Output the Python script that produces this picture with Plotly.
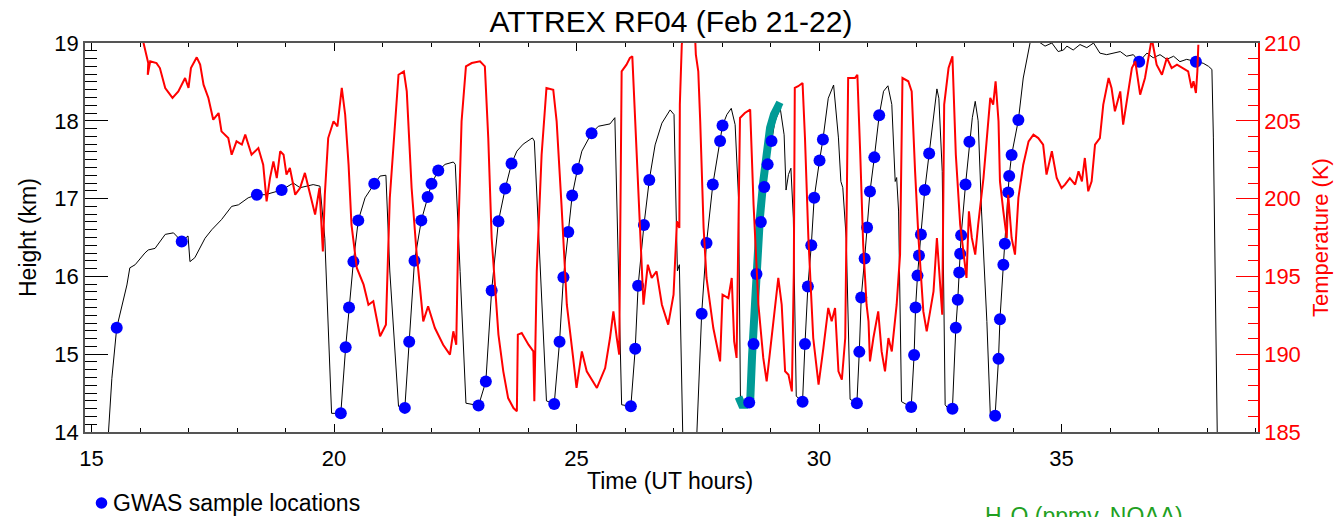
import plotly.graph_objects as go

# ---------------- data ----------------
# Aircraft altitude (km) vs time (UT hours)
height_time = [15.30, 15.35, 15.42, 15.52, 15.62, 15.73, 15.79, 15.90, 16.10, 16.17, 16.31, 16.52, 16.69, 16.76,
               16.86, 16.99, 17.03, 17.13, 17.20, 17.34, 17.48, 17.68, 17.89, 18.03, 18.23, 18.41, 18.58, 18.78,
               18.92, 19.16, 19.30, 19.57, 19.71, 19.81, 19.95, 20.06, 20.14, 20.24, 20.31, 20.40, 20.50, 20.64,
               20.83, 20.95, 21.07, 21.15, 21.33, 21.46, 21.55, 21.66, 21.80, 21.93, 22.01, 22.15, 22.29, 22.46,
               22.50, 22.60, 22.72, 22.98, 23.13, 23.25, 23.39, 23.53, 23.66, 23.77, 23.90, 24.09, 24.13, 24.38,
               24.54, 24.65, 24.73, 24.83, 24.91, 25.02, 25.11, 25.31, 25.45, 25.69, 25.79, 25.93, 26.12, 26.21,
               26.27, 26.39, 26.50, 26.62, 26.76, 26.93, 27.01, 27.08, 27.12, 27.19, 27.27, 27.37, 27.48, 27.58,
               27.68, 27.81, 27.96, 28.01, 28.10, 28.19, 28.27, 28.34, 28.38, 28.45, 28.56, 28.65, 28.71, 28.80,
               28.87, 28.94, 29.02, 29.09, 29.20, 29.28, 29.32, 29.37, 29.42, 29.47, 29.53, 29.66, 29.71, 29.77,
               29.84, 29.90, 30.01, 30.08, 30.19, 30.30, 30.40, 30.45, 30.49, 30.56, 30.64, 30.78, 30.83, 30.87,
               30.94, 30.99, 31.05, 31.14, 31.24, 31.33, 31.42, 31.50, 31.57, 31.60, 31.64, 31.70, 31.81, 31.90,
               31.96, 31.99, 32.03, 32.06, 32.10, 32.18, 32.27, 32.36, 32.43, 32.47, 32.54, 32.60, 32.65, 32.75,
               32.82, 32.86, 32.89, 32.91, 32.93, 33.02, 33.10, 33.16, 33.22, 33.28, 33.35, 33.46, 33.53, 33.63,
               33.70, 33.73, 33.80, 33.83, 33.90, 33.92, 33.97, 34.11, 34.21, 34.28, 34.35, 34.42, 34.52, 34.66,
               34.80, 34.93, 35.04, 35.11, 35.24, 35.38, 35.52, 35.66, 35.79, 35.93, 36.07, 36.21, 36.34, 36.48,
               36.60, 36.76, 36.89, 37.03, 37.17, 37.31, 37.44, 37.58, 37.77, 37.92, 38.03, 38.10, 38.13, 38.20,
               38.22]
height_km = [13.50, 14.00, 14.69, 15.34, 15.59, 15.89, 16.11, 16.15, 16.30, 16.34, 16.36, 16.54, 16.56, 16.52,
             16.45, 16.52, 16.19, 16.24, 16.32, 16.49, 16.60, 16.73, 16.90, 16.92, 17.01, 17.05, 17.05, 17.09,
             17.11, 17.20, 17.14, 17.18, 17.16, 16.49, 14.24, 14.24, 14.24, 15.09, 15.60, 16.19, 16.72, 17.01,
             17.19, 17.29, 17.30, 16.07, 14.33, 14.31, 15.16, 16.20, 16.72, 17.02, 17.19, 17.36, 17.44, 17.47,
             17.44, 16.06, 14.37, 14.34, 14.65, 15.82, 16.71, 17.13, 17.45, 17.61, 17.70, 17.78, 17.74, 14.40,
             14.36, 15.16, 15.99, 16.57, 17.04, 17.38, 17.61, 17.84, 17.93, 17.96, 18.04, 14.35, 14.33, 15.07,
             15.88, 16.66, 17.24, 17.69, 17.97, 18.14, 18.08, 16.07, 16.15, 13.97, 13.49, 13.49, 13.97, 15.52,
             16.43, 17.18, 17.74, 17.94, 18.08, 18.16, 17.95, 17.01, 14.39, 14.37, 14.38, 15.13, 16.03, 16.70,
             17.15, 17.44, 17.74, 17.99, 18.16, 17.82, 17.11, 17.31, 17.39, 16.75, 14.46, 14.39, 15.13, 15.87,
             16.40, 17.01, 17.49, 17.76, 18.29, 18.46, 17.78, 17.22, 17.14, 16.49, 14.42, 14.37, 15.03, 15.73,
             16.23, 16.63, 17.09, 17.53, 18.07, 18.38, 18.45, 18.21, 17.22, 17.27, 16.84, 14.39, 14.35, 14.32,
             14.99, 15.60, 16.01, 16.27, 16.54, 17.11, 17.58, 18.12, 18.41, 18.29, 17.35, 14.35, 14.31, 14.30,
             15.34, 15.70, 16.05, 16.29, 16.53, 17.18, 17.73, 18.04, 18.25, 18.00, 16.84, 15.42, 14.24, 14.21,
             14.94, 15.45, 16.15, 16.42, 17.08, 17.29, 17.56, 18.01, 18.55, 18.76, 19.00, 19.10, 19.02, 18.96,
             19.00, 18.89, 18.91, 18.96, 18.91, 18.98, 18.94, 19.00, 18.87, 18.85, 18.87, 18.89, 18.83, 18.85,
             18.76, 18.87, 18.81, 18.85, 18.79, 18.83, 18.76, 18.79, 18.76, 18.74, 18.70, 18.66, 17.78, 13.99,
             13.50]

# Air temperature (K) vs time (UT hours); None marks a break in the trace
temp_time = [16.05, 16.10, 16.17, 16.16, 16.21, 16.34, 16.41, 16.52, 16.67, 16.79, 16.93, 17.00, 17.05, 17.17,
             17.24, 17.31, 17.41, 17.51, 17.62, 17.68, 17.82, 17.89, 17.99, 18.10, 18.17, 18.30, 18.44, 18.54,
             18.61, 18.68, 18.75, 18.82, 18.89, 18.96, 19.02, 19.09, 19.20, 19.30, 19.40, 19.51, 19.61, 19.70,
             19.77, 19.81, 19.88, 19.99, 20.07, 20.16, 20.23, 20.30, 20.36, 20.47, 20.61, 20.71, 20.81, 20.95,
             21.07, 21.15, 21.26, 21.33, 21.44, 21.50, 21.60, 21.70, 21.84, 21.94, 22.08, 22.25, 22.39, 22.46,
             22.52, 22.56, 22.63, 22.72, 22.84, 23.01, 23.11, 23.18, 23.25, 23.32, 23.39, 23.49, 23.59, 23.70,
             23.77, 23.79, 23.87, 24.01, 24.11, 24.13, 24.18, 24.28, 24.38, 24.52, 24.59, 24.69, 24.80, 24.93,
             25.00, 25.11, 25.21, 25.42, 25.59, 25.69, 25.76, 25.83, 25.88, 25.93, 26.03, 26.10, 26.15, 26.21,
             26.31, 26.38, 26.47, 26.55, 26.65, 26.76, 26.89, 27.00, 27.07, 27.12, 27.13, 27.17, 27.20, 27.44,
             27.46, 27.51, 27.55, 27.62, 27.68, 27.75, 27.82, 27.89, 27.96, 28.01, 28.13, 28.20, 28.25, 28.30,
             28.37, 28.47, 28.58, 28.65, 28.75, 28.85, 28.92, 28.99, 29.09, 29.16, 29.23, 29.30, 29.37, 29.44,
             29.48, 29.50, 29.57, 29.66, 29.71, 29.78, 29.88, 29.99, 30.09, 30.19, 30.26, 30.33, 30.40, 30.47,
             30.54, 30.60, 30.74, 30.79, 30.85, 30.91, 30.98, 31.02, 31.05, 31.12, 31.22, 31.29, 31.36, 31.43,
             31.50, 31.60, 31.67, 31.72, 31.84, 31.91, 31.98, 32.05, 32.15, 32.22, 32.29, 32.36, 32.43, 32.49,
             32.54, 32.58, 32.67, 32.75, 32.82, 32.91, 32.98, 33.04, 33.09, 33.15, 33.22, 33.28, 33.39, 33.46,
             33.53, 33.59, 33.64, 33.70, 33.73, 33.80, 33.87, 33.90, 33.97, 34.04, 34.11, 34.21, 34.32, 34.42,
             34.52, 34.62, 34.69, 34.80, 34.90, 35.00, 35.07, 35.17, 35.28, 35.35, 35.42, 35.48, 35.55, 35.62,
             35.69, 35.79, 35.86, 35.97, 36.03, 36.10, 36.21, 36.27, 36.38, 36.45, 36.52, 36.62, 36.72, 36.81,
             36.86, 36.96, 37.07, 37.17, 37.27, 37.38, 37.51, 37.61, 37.68, 37.72, 37.77, 37.80, 37.82, None,
             38.13, 38.13, None, 38.85, 38.85]
temp_K = [210.3, 209.57, 208.71, 207.96, 208.82, 208.71, 208.39, 207.11, 206.47, 206.89, 207.75, 207.11, 208.39,
          209.08, 208.61, 207.32, 206.47, 205.07, 205.50, 204.32, 203.89, 202.82, 203.68, 203.47, 204.11, 202.82,
          203.25, 202.18, 199.82, 201.32, 202.39, 201.32, 203.04, 202.82, 201.54, 201.97, 200.25, 200.68, 201.65,
          200.25, 198.97, 200.68, 196.61, 200.25, 203.89, 204.97, 204.64, 207.11, 205.39, 202.18, 198.32, 195.54,
          194.47, 193.18, 193.40, 191.15, 191.90, 200.04, 204.97, 207.96, 208.18, 206.89, 200.68, 196.61, 192.11,
          193.08, 191.68, 190.61, 189.97, 191.47, 190.61, 197.47, 204.97, 208.50, 208.71, 208.82, 208.50, 203.89,
          197.47, 194.04, 191.26, 188.90, 187.18, 186.54, 186.33, 191.26, 191.36, 190.61, 190.18, 186.97, 195.32,
          202.82, 207.11, 207.00, 204.97, 199.61, 193.18, 189.76, 187.83, 190.18, 188.90, 187.83, 189.11, 191.04,
          192.75, 191.04, 189.97, 208.18, 208.61, 209.04, 209.14, 204.97, 198.11, 193.18, 195.75, 194.90, 195.32,
          193.18, 191.90, 193.83, 198.54, 198.11, 206.04, 209.89, 210.7, 210.7, 209.25, 208.18, 204.97, 198.11,
          194.90, 193.18, 191.68, 190.61, 189.54, 193.83, 193.61, 194.90, 190.83, 189.76, 205.18, 205.50, 205.72,
          199.61, 193.18, 189.76, 188.26, 190.18, 193.18, 194.90, 193.18, 188.90, 188.68, 187.61, 195.32, 207.11,
          207.22, 207.43, 203.89, 197.47, 191.04, 188.04, 190.40, 192.97, 192.11, 192.97, 188.90, 188.36, 191.04,
          207.75, 207.75, 207.96, 202.82, 197.04, 193.18, 192.11, 189.54, 191.04, 192.75, 190.18, 188.90, 191.04,
          190.18, 193.18, 196.40, 207.75, 207.54, 206.89, 201.75, 197.47, 192.75, 191.47, 192.75, 194.04, 197.47,
          194.90, 192.54, 206.04, 208.39, 209.14, 202.82, 198.32, 196.61, 194.90, 199.18, 197.47, 196.40, 198.32,
          201.32, 203.89, 206.47, 206.04, 207.54, 204.97, 201.11, 199.18, 197.47, 200.25, 197.47, 196.40, 200.04,
          202.18, 203.68, 204.11, 203.89, 203.47, 201.54, 203.04, 201.32, 200.68, 200.90, 201.32, 200.90, 201.75,
          201.11, 202.61, 200.47, 201.11, 203.47, 203.89, 206.04, 207.75, 207.11, 205.61, 206.89, 204.75, 207.11,
          208.39, 208.82, 206.68, 207.75, 209.25, 210.3, 208.61, 207.96, 209.04, 208.39, 208.61, 208.39, 208.18,
          207.11, 207.54, 206.79, 208.18, 209.89, 211.4, None, 211.0, 209.14, None, 211.0, 208.3]

# GWAS sample locations (time, height km)
gwas_time = [15.52, 16.86, 18.41, 18.92, 20.14, 20.24, 20.31, 20.40, 20.50, 20.83, 21.46, 21.55, 21.66, 21.80,
             21.93, 22.01, 22.15, 22.98, 23.13, 23.25, 23.39, 23.53, 23.66, 24.54, 24.65, 24.73, 24.83, 24.91,
             25.02, 25.31, 26.12, 26.21, 26.27, 26.39, 26.50, 27.42, 27.58, 27.68, 27.81, 27.96, 28.01, 28.56,
             28.65, 28.71, 28.80, 28.87, 28.94, 29.02, 29.66, 29.71, 29.77, 29.84, 29.90, 30.01, 30.08, 30.78,
             30.83, 30.87, 30.94, 30.99, 31.05, 31.14, 31.24, 31.90, 31.96, 31.99, 32.03, 32.06, 32.10, 32.18,
             32.27, 32.75, 32.82, 32.86, 32.89, 32.91, 32.93, 33.02, 33.10, 33.63, 33.70, 33.73, 33.80, 33.83,
             33.90, 33.92, 33.97, 34.11, 36.60, 37.77]
gwas_km = [15.34, 16.45, 17.05, 17.11, 14.24, 15.09, 15.60, 16.19, 16.72, 17.19, 14.31, 15.16, 16.20, 16.72,
           17.02, 17.19, 17.36, 14.34, 14.65, 15.82, 16.71, 17.13, 17.45, 14.36, 15.16, 15.99, 16.57, 17.04,
           17.38, 17.84, 14.33, 15.07, 15.88, 16.66, 17.24, 13.74, 15.52, 16.43, 17.18, 17.74, 17.94, 14.38,
           15.13, 16.03, 16.70, 17.15, 17.44, 17.74, 14.39, 15.13, 15.87, 16.40, 17.01, 17.49, 17.76, 14.37,
           15.03, 15.73, 16.23, 16.63, 17.09, 17.53, 18.07, 14.32, 14.99, 15.60, 16.01, 16.27, 16.54, 17.11,
           17.58, 14.30, 15.34, 15.70, 16.05, 16.29, 16.53, 17.18, 17.73, 14.21, 14.94, 15.45, 16.15, 16.42,
           17.08, 17.29, 17.56, 18.01, 18.76, 18.76]

# H2O (NOAA) segment, drawn against the height axis
h2o_time = [28.34, 28.41, 28.50, 28.58, 28.62, 28.68, 28.73, 28.78, 28.85, 28.92, 28.99, 29.07, 29.16, 29.23]
h2o_km = [14.45, 14.35, 14.35, 14.39, 14.99, 15.72, 16.28, 16.75, 17.22, 17.56, 17.91, 18.08, 18.19, 18.17]

x_ticks = [15, 20, 25, 30, 35]
h_ticks = [14, 15, 16, 17, 18, 19]
t_ticks = [185, 190, 195, 200, 205, 210]

# ---------------- figure ----------------
FONT = "Liberation Sans, Arial, sans-serif"
RED = "#ff0000"
W, H = 1335, 517
L, R, T, B = 85, 77, 43, 85
PW, PH = W - L - R, H - T - B


def px_x(p):
    return (p - L) / PW


def px_y(p):
    return (H - B - p) / PH


fig = go.Figure()
fig.add_trace(go.Scatter(x=height_time, y=height_km, mode="lines",
                         line=dict(color="black", width=1), showlegend=False))
fig.add_trace(go.Scatter(x=h2o_time, y=h2o_km, mode="lines",
                         line=dict(color="#009b96", width=8), showlegend=False))
fig.add_trace(go.Scatter(x=gwas_time, y=gwas_km, mode="markers", cliponaxis=False,
                         marker=dict(color="#0000ff", size=12, line=dict(width=0)), showlegend=False))
fig.add_trace(go.Scatter(x=temp_time, y=temp_K, mode="lines", yaxis="y2",
                         line=dict(color=RED, width=2), connectgaps=False, showlegend=False))

axis_line = "#555555"
fig.update_layout(
    width=W, height=H,
    margin=dict(l=L, r=R, t=T, b=B, autoexpand=False),
    paper_bgcolor="white", plot_bgcolor="white",
    font=dict(family=FONT, size=22, color="black"),
    xaxis=dict(range=[14.866, 39.05], tickmode="array", tickvals=x_ticks, automargin=False,
               ticks="inside", ticklen=8, tickwidth=1, tickcolor="black",
               minor=dict(dtick=1, ticks="inside", ticklen=4, tickcolor="black"),
               showline=True, linecolor=axis_line, linewidth=1.5, mirror="ticks",
               showgrid=False, zeroline=False, ticklabelstandoff=6,
               tickfont=dict(size=22, color="black")),
    yaxis=dict(range=[14, 19], tickmode="array", tickvals=h_ticks, automargin=False,
               ticks="inside", ticklen=23, tickwidth=1, tickcolor="black",
               minor=dict(dtick=0.1, ticks="inside", ticklen=12, tickcolor="black"),
               showline=True, linecolor=axis_line, linewidth=1.5,
               showgrid=False, zeroline=False,
               tickfont=dict(size=22, color="black")),
    yaxis2=dict(range=[185, 210], overlaying="y", side="right", tickmode="array", tickvals=t_ticks,
                automargin=False,
                ticks="inside", ticklen=22, tickwidth=1, tickcolor=RED,
                minor=dict(dtick=1, ticks="inside", ticklen=10, tickcolor=RED),
                showline=True, linecolor=RED, linewidth=1.5,
                showgrid=False, zeroline=False,
                tickfont=dict(size=22, color=RED)),
    title=dict(text="ATTREX RF04 (Feb 21-22)", x=px_x(671), xref="paper", xanchor="center",
               y=1 - 21 / H, yref="container", yanchor="middle", automargin=False,
               font=dict(size=30, color="black", family=FONT)),
)

annotations = [
    dict(text="Time (UT hours)", x=px_x(670), y=px_y(481), xref="paper", yref="paper",
         xanchor="center", yanchor="middle", showarrow=False, font=dict(size=23, color="black")),
    dict(text="Height (km)", x=px_x(28), y=px_y(238), xref="paper", yref="paper", textangle=-90,
         xanchor="center", yanchor="middle", showarrow=False, font=dict(size=23, color="black")),
    dict(text="Temperature (K)", x=px_x(1321), y=px_y(238), xref="paper", yref="paper", textangle=-90,
         xanchor="center", yanchor="middle", showarrow=False, font=dict(size=22, color=RED)),
    dict(text="GWAS sample locations", x=px_x(111), y=px_y(503), xref="paper", yref="paper",
         xanchor="left", yanchor="middle", showarrow=False, font=dict(size=23, color="black")),
    dict(text="H<sub>2</sub>O (ppmv, NOAA)", x=px_x(983), y=px_y(501), xref="paper", yref="paper",
         xanchor="left", yanchor="top", showarrow=False, font=dict(size=23, color="#22a022")),
]
fig.update_layout(annotations=annotations)

r = 5.8
fig.add_shape(type="circle", xref="paper", yref="paper",
              x0=px_x(101.5 - r), x1=px_x(101.5 + r), y0=px_y(503 + r), y1=px_y(503 - r),
              fillcolor="#0000ff", line=dict(width=0))

fig.write_html("out.html", config={"displayModeBar": False},
               post_script="document.body.style.margin='0';document.body.style.overflow='hidden';")
